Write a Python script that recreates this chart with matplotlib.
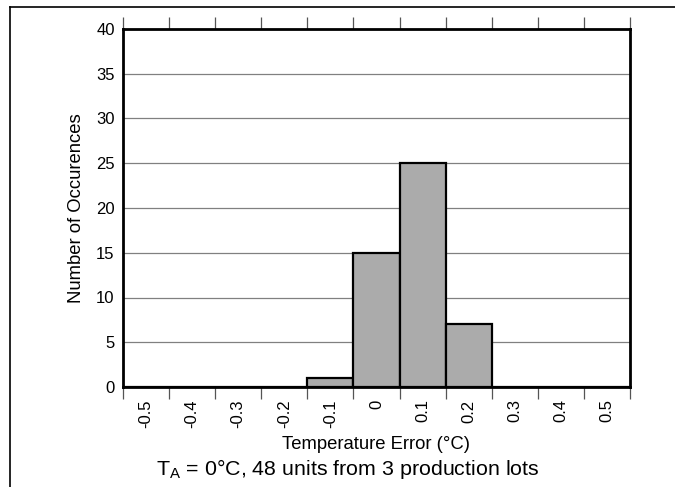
import matplotlib
matplotlib.use('Agg')
import matplotlib.pyplot as plt
import numpy as np
from matplotlib.lines import Line2D

plt.rcParams['font.family'] = ['Liberation Sans', 'DejaVu Sans']

# temperature error bins (°C) and counts
bins = ['-0.5', '-0.4', '-0.3', '-0.2', '-0.1', '0', '0.1', '0.2', '0.3', '0.4', '0.5']
counts = [0, 0, 0, 0, 1, 15, 25, 7, 0, 0, 0]
yticks = [0, 5, 10, 15, 20, 25, 30, 35, 40]

fig = plt.figure(figsize=(6.75, 4.87), dpi=100)
ax = fig.add_axes([123/675, 1-387/487, (630-123)/675, (387-29)/487])

x = np.arange(len(bins))
ax.bar(x, counts, width=1.0, color='#ababab', edgecolor='black', linewidth=1.6, zorder=3)

ax.set_xlim(-0.5, len(bins) - 0.5)
ax.set_ylim(0, 40)
ax.set_yticks(yticks)
ax.yaxis.grid(True, color='#808080', linewidth=0.9, zorder=0)
ax.tick_params(axis='y', length=0, labelsize=12, pad=6)

# labels at bin centres, tick marks at bin edges (top and bottom)
ax.set_xticks(x)
ax.set_xticklabels(bins, rotation=90, fontsize=12)
ax.set_xticks(np.arange(len(bins) + 1) - 0.5, minor=True)
ax.tick_params(axis='x', which='major', length=0, pad=9)
ax.tick_params(axis='x', which='minor', direction='out', length=8.5, width=0.9,
               color='#555555', top=True, bottom=True)

for s in ax.spines.values():
    s.set_linewidth(2.0)

ax.set_xlabel('Temperature Error (°C)', fontsize=13.3, labelpad=6)
ax.set_ylabel('Number of Occurences', fontsize=13.3, labelpad=8)

fig.text(348/675, 1-475/487, 'T$_\\mathregular{A}$ = 0°C, 48 units from 3 production lots',
         ha='center', va='baseline', fontsize=15.4)

# page frame
fig.add_artist(Line2D([10/675, 1], [1-7/487, 1-7/487], color='black', linewidth=1.2))
fig.add_artist(Line2D([10/675, 10/675], [1-7/487, 0], color='black', linewidth=1.2))

fig.savefig('out.png', dpi=100)
